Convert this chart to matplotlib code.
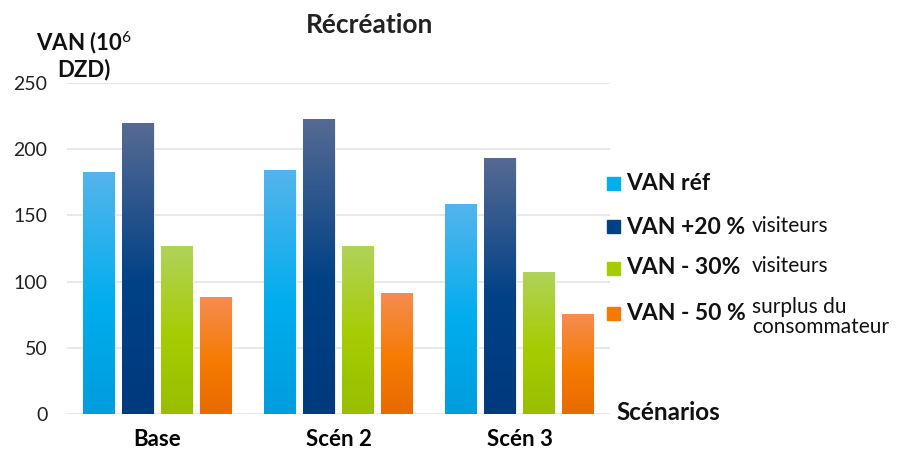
import numpy as np
import matplotlib
matplotlib.use("Agg")
from matplotlib import pyplot as plt
from matplotlib.colors import LinearSegmentedColormap
from matplotlib.patches import Rectangle

plt.rcParams["font.family"] = ["Lato", "DejaVu Sans"]
plt.rcParams["mathtext.fontset"] = "custom"
plt.rcParams["mathtext.rm"] = "Lato"

# data (10^6 DZD)
scenarios = ["Base", "Scén 2", "Scén 3"]
van_ref = [182.5, 184, 158.5]
van_plus20 = [219.5, 223, 193.5]
van_moins30 = [126.5, 126.5, 107.5]
van_moins50 = [88, 91.5, 75.5]

labels_bold = ["VAN réf", "VAN +20 %", "VAN - 30%", "VAN - 50 %"]
# (top, middle, bottom) of each gradient
grads = [("#55b4ec", "#00adee", "#009ddc"),
         ("#566a93", "#004186", "#00397d"),
         ("#b0d35a", "#a6cc00", "#98be00"),
         ("#f68c52", "#f57b00", "#e86a00")]

W, H = 899, 451
fig = plt.figure(figsize=(W / 100, H / 100), dpi=100)
ax = fig.add_axes([67 / W, 1 - 414 / H, (610 - 67) / W, (414 - 82.8) / H])


def px(x, y):
    return x / W, 1 - y / H


x = np.arange(len(scenarios))
width = 0.175
step = 0.216
offsets = [-1.5 * step, -0.5 * step, 0.5 * step, 1.5 * step]
grad = np.linspace(0, 1, 256).reshape(-1, 1)

for i, vals in enumerate([van_ref, van_plus20, van_moins30, van_moins50]):
    top, mid, bot = grads[i]
    bars = ax.bar(x + offsets[i], vals, width, color=mid, edgecolor="#ffffff",
                  linewidth=0.6, zorder=2)
    cmap = LinearSegmentedColormap.from_list("g%d" % i, [(0, bot), (0.45, mid), (1, top)])
    for b in bars:
        x0, h = b.get_x(), b.get_height()
        im = ax.imshow(grad, cmap=cmap, origin="lower", aspect="auto",
                       extent=[x0, x0 + b.get_width(), 0, h], zorder=3)
        im.set_clip_path(b)

ax.set_xlim(-0.5, 2.5)
ax.set_ylim(0, 250)
ax.set_yticks([0, 50, 100, 150, 200, 250])
ax.set_xticks(x)
ax.set_xticklabels(scenarios, fontweight="bold", fontsize=16)
ax.tick_params(axis="y", length=0, pad=14, labelsize=14, labelcolor="#222222")
ax.tick_params(axis="x", length=0, pad=11)
ax.yaxis.grid(True, color="#e4e4e4", linewidth=1.2, zorder=0)
ax.set_axisbelow(True)
for s in ax.spines.values():
    s.set_visible(False)

fig.text(*px(370, 25), "Récréation", ha="center", va="center",
         fontsize=19, fontweight="bold", color="#222222")
fig.text(*px(84, 55), "VAN (10$^{\\mathrm{6}}$\nDZD)", ha="center", va="center",
         fontsize=16, fontweight="bold", linespacing=1.1, color="#111111")
fig.text(*px(616, 413), "Scénarios", ha="left", va="center",
         fontsize=17.5, fontweight="bold", color="#111111")

# legend drawn by hand
rows_y = [183, 227, 268, 313]
for i, lab in enumerate(labels_bold):
    fig.patches.append(Rectangle(px(607, rows_y[i] + 6.5), 13 / W, 13 / H,
                                 transform=fig.transFigure, color=grads[i][1]))
    fig.text(*px(626, rows_y[i]), lab, ha="left", va="center",
             fontsize=16.5, fontweight="bold", color="#111111")
fig.text(*px(752, 226), "visiteurs", ha="left", va="center", fontsize=15, color="#111111")
fig.text(*px(752, 266), "visiteurs", ha="left", va="center", fontsize=15, color="#111111")
fig.text(*px(752, 317), "surplus du\nconsommateur", ha="left", va="center",
         fontsize=15, linespacing=1.0, color="#111111")

fig.savefig("out.png", dpi=100)
